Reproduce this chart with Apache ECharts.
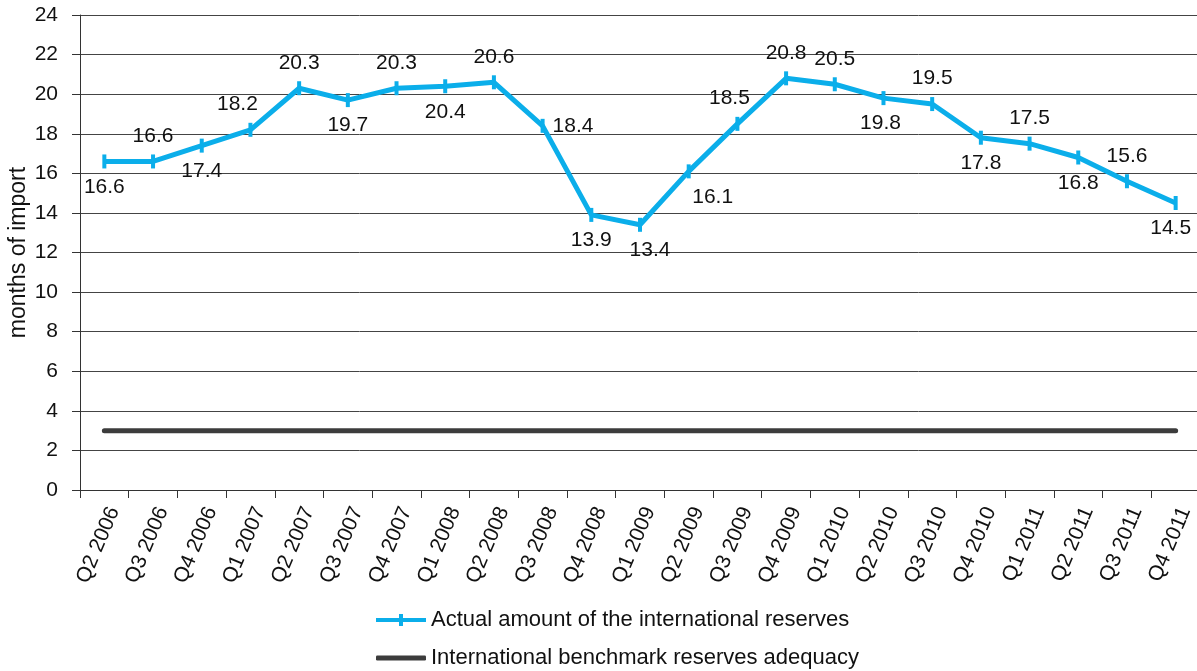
<!DOCTYPE html>
<html>
<head>
<meta charset="utf-8">
<script src="https://cdn.jsdelivr.net/npm/echarts@6/dist/echarts.min.js"></script>
<style>
  html, body { margin: 0; padding: 0; background: #fff; }
  #chart { width: 1197px; height: 671px; }
</style>
</head>
<body>
<div id="chart"></div>
<script>
// quarters on the x axis
var quarters = ['Q2 2006', 'Q3 2006', 'Q4 2006', 'Q1 2007', 'Q2 2007', 'Q3 2007', 'Q4 2007',
    'Q1 2008', 'Q2 2008', 'Q3 2008', 'Q4 2008', 'Q1 2009', 'Q2 2009', 'Q3 2009', 'Q4 2009',
    'Q1 2010', 'Q2 2010', 'Q3 2010', 'Q4 2010', 'Q1 2011', 'Q2 2011', 'Q3 2011', 'Q4 2011'];

// months of import covered by reserves
var actualReserves = [16.6, 16.6, 17.4, 18.2, 20.3, 19.7, 20.3, 20.4, 20.6, 18.4, 13.9, 13.4,
    16.1, 18.5, 20.8, 20.5, 19.8, 19.5, 17.8, 17.5, 16.8, 15.6, 14.5];

// benchmark: 3 months of import
var benchmark = [3, 3, 3, 3, 3, 3, 3, 3, 3, 3, 3, 3, 3, 3, 3, 3, 3, 3, 3, 3, 3, 3, 3];

var yTicks = { min: 0, max: 24, step: 2 };

// where each data label sits relative to its point (+ small sideways nudge)
var labelPlacement = ['bottom', 'top', 'bottom', 'top', 'top', 'bottom', 'top', 'bottom', 'top',
    'right', 'bottom', 'bottom', 'bottom', 'top', 'top', 'top', 'bottom', 'top', 'bottom',
    'top', 'bottom', 'top', 'bottom'];
var labelNudge = [0, 0, 0, -13, 0, 0, 0, 0, 0, 0, 0, 10, 24, -8, 0, 0, -3, 0, 0, 0, 0, 0, -5];

var FONT = 'Liberation Sans, Arial, sans-serif';
var SERIES1 = 'Actual amount of the international reserves';
var SERIES2 = 'International benchmark reserves adequacy';
var BLUE = '#0BAEEA';
var DARK = '#3c3c3c';

var chart = echarts.init(document.getElementById('chart'));

var actualData = actualReserves.map(function (v, i) {
    return { value: v, label: { position: labelPlacement[i], offset: [labelNudge[i], 0] } };
});

var legendText = { fontSize: 22, color: '#111', fontFamily: FONT };

chart.setOption({
    animation: false,
    textStyle: { fontFamily: FONT },
    grid: { left: 80, top: 15, width: 1120, height: 475, outerBoundsMode: 'none', containLabel: false },
    legend: [
        {
            left: 371,
            top: 604,
            itemWidth: 50,
            itemHeight: 12,
            textStyle: legendText,
            data: [{
                name: SERIES1,
                icon: 'path://M0,4 L50,4 L50,8 L0,8 Z M23,0 L27,0 L27,12 L23,12 Z'
            }]
        },
        {
            left: 371,
            top: 642,
            itemWidth: 50,
            itemHeight: 5,
            textStyle: legendText,
            data: [{ name: SERIES2, icon: 'roundRect' }]
        }
    ],
    xAxis: {
        type: 'category',
        data: quarters,
        boundaryGap: true,
        axisLine: { lineStyle: { color: '#333', width: 1 } },
        axisTick: { show: true, length: 8, alignWithLabel: false, lineStyle: { color: '#333' } },
        axisLabel: {
            interval: 0,
            rotate: 67,
            margin: 14,
            verticalAlign: 'top',
            fontSize: 21,
            color: '#111',
            fontFamily: FONT
        },
        splitLine: { show: false }
    },
    yAxis: {
        type: 'value',
        min: yTicks.min,
        max: yTicks.max,
        interval: yTicks.step,
        name: 'months of import',
        nameLocation: 'middle',
        nameGap: 50,
        nameMoveOverlap: false,
        nameTextStyle: { fontSize: 23, color: '#111', fontFamily: FONT },
        axisLine: { show: true, lineStyle: { color: '#333', width: 1 } },
        axisTick: { show: true, length: 8, lineStyle: { color: '#333' } },
        axisLabel: { fontSize: 21, color: '#111', margin: 22, fontFamily: FONT },
        splitLine: { show: true, lineStyle: { color: '#444', width: 1 } }
    },
    series: [
        {
            name: SERIES1,
            type: 'line',
            data: actualData,
            color: BLUE,
            showAllSymbol: true,
            symbol: 'rect',
            symbolSize: [4, 14],
            itemStyle: { color: BLUE },
            lineStyle: { color: BLUE, width: 5 },
            label: {
                show: true,
                distance: 8,
                fontSize: 21,
                color: '#111',
                fontFamily: FONT
            },
            z: 3
        },
        {
            name: SERIES2,
            type: 'line',
            data: benchmark,
            color: DARK,
            symbol: 'none',
            itemStyle: { color: DARK },
            lineStyle: { color: DARK, width: 5, cap: 'round' },
            z: 2
        }
    ]
});
</script>
</body>
</html>
